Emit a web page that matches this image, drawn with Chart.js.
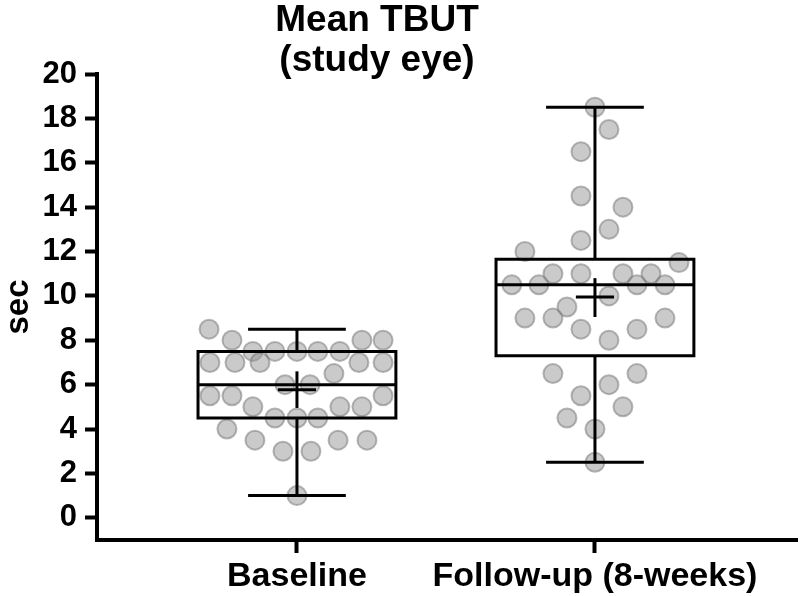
<!DOCTYPE html>
<html><head><meta charset="utf-8">
<script src="https://cdn.jsdelivr.net/npm/chart.js@4"></script>
<style>html,body{margin:0;padding:0;background:#fff}#wrap{width:800px;height:596px}</style>
</head><body><div id="wrap"><canvas id="c" width="800" height="596"></canvas></div>
<script>
// ---- data ----
const chartTitle = ['Mean TBUT', '(study eye)'];
const yAxisTitle = 'sec';
const categories = ['Baseline', 'Follow-up (8-weeks)'];
const yTickValues = [0, 2, 4, 6, 8, 10, 12, 14, 16, 18, 20];

const baselineValues = [8.5, 8.0, 7.5, 7.5, 7.5, 7.5, 7.5, 8.0, 8.0, 7.0, 7.0, 7.0, 6.5, 7.0, 7.0, 6.0, 6.0,
  5.5, 5.5, 5.0, 4.5, 4.5, 4.5, 5.0, 5.0, 5.5, 4.0, 3.5, 3.0, 3.0, 3.5, 3.5, 1.0];
const baselineJitter = [-0.295, -0.218, -0.148, -0.074, 0, 0.070, 0.144, 0.218, 0.289, -0.292, -0.208, -0.124, 0.124, 0.208, 0.289, -0.040, 0.044,
  -0.292, -0.218, -0.148, -0.074, 0, 0.070, 0.144, 0.218, 0.289, -0.235, -0.141, -0.047, 0.047, 0.138, 0.235, 0];

const followupValues = [18.5, 17.5, 16.5, 14.5, 14.0, 13.0, 12.5, 12.0, 11.5, 11.0, 11.0, 11.0, 11.0, 10.5, 10.5, 10.5, 10.5,
  10.0, 9.5, 9.0, 9.0, 9.0, 8.5, 8.5, 8.0, 6.5, 6.5, 6.0, 5.5, 5.0, 4.5, 4.0, 2.5];
const followupJitter = [0, 0.047, -0.047, -0.047, 0.094, 0.047, -0.047, -0.235, 0.282, -0.141, -0.047, 0.094, 0.188, -0.279, -0.188, 0.141, 0.235,
  0.047, -0.094, -0.235, -0.141, 0.235, -0.047, 0.141, 0.047, -0.141, 0.141, 0.047, -0.047, 0.094, -0.094, 0, 0];

const boxMin = [1.0, 2.5];
const boxQ1 = [4.5, 7.3];
const boxMedian = [6.0, 10.5];
const boxQ3 = [7.5, 11.65];
const boxMax = [8.5, 18.5];
const meanValue = [5.77, 9.95];
const meanLow = [4.95, 9.05];
const meanHigh = [6.6, 10.8];

// ---- style ----
const FONT = "'Liberation Sans', Arial, Helvetica, sans-serif";
const BOX_HALF = 0.332, CAP_HALF = 0.164, MEAN_HALF = 0.064;

const groups = [
  { values: baselineValues, jitter: baselineJitter },
  { values: followupValues, jitter: followupJitter }
];

const datasets = [];
groups.forEach((g, i) => {
  datasets.push({
    label: categories[i],
    data: g.values.map((v, k) => ({ x: i + 1 + g.jitter[k], y: v })),
    pointRadius: 9.5,
    pointBackgroundColor: 'rgba(150,150,150,0.5)',
    pointBorderColor: 'rgba(115,115,115,0.5)',
    pointBorderWidth: 2,
    showLine: false,
    order: 10
  });
});

function lineDs(pts, cap) {
  return {
    data: pts.map(p => ({ x: p[0], y: p[1] })),
    showLine: true, pointRadius: 0, borderColor: '#000', borderWidth: 3,
    fill: false, tension: 0, borderCapStyle: cap || 'butt', borderJoinStyle: 'miter', order: 1
  };
}

categories.forEach((c, i) => {
  const x = i + 1;
  datasets.push(lineDs([[x - BOX_HALF, boxQ1[i]], [x + BOX_HALF, boxQ1[i]], [x + BOX_HALF, boxQ3[i]], [x - BOX_HALF, boxQ3[i]], [x - BOX_HALF, boxQ1[i]]], 'square'));
  datasets.push(lineDs([[x - BOX_HALF, boxMedian[i]], [x + BOX_HALF, boxMedian[i]]]));
  datasets.push(lineDs([[x, boxQ3[i]], [x, boxMax[i]]]));
  datasets.push(lineDs([[x, boxQ1[i]], [x, boxMin[i]]]));
  datasets.push(lineDs([[x - CAP_HALF, boxMax[i]], [x + CAP_HALF, boxMax[i]]]));
  datasets.push(lineDs([[x - CAP_HALF, boxMin[i]], [x + CAP_HALF, boxMin[i]]]));
  datasets.push(lineDs([[x - MEAN_HALF, meanValue[i]], [x + MEAN_HALF, meanValue[i]]]));
  datasets.push(lineDs([[x, meanLow[i]], [x, meanHigh[i]]]));
});

const titlePlugin = {
  id: 'twoLineTitle',
  afterDraw(chart) {
    const ctx = chart.ctx;
    ctx.save();
    ctx.fillStyle = '#000';
    ctx.font = 'bold 37px ' + FONT;
    ctx.textAlign = 'center';
    ctx.textBaseline = 'alphabetic';
    chartTitle.forEach((t, k) => ctx.fillText(t, 377, 31 + k * 40));
    ctx.restore();
  }
};

new Chart(document.getElementById('c'), {
  type: 'scatter',
  data: { datasets },
  plugins: [titlePlugin],
  options: {
    responsive: false,
    animation: false,
    devicePixelRatio: 1,
    layout: { autoPadding: false, padding: { top: 74, right: 3, left: 0, bottom: 0 } },
    plugins: { legend: { display: false }, tooltip: { enabled: false }, title: { display: false } },
    scales: {
      x: {
        type: 'linear',
        min: 0.329, max: 2.678,
        afterBuildTicks: s => { s.ticks = categories.map((c, i) => ({ value: i + 1 })); },
        afterFit: s => { s.height = 56; },
        ticks: {
          callback: (v, idx) => categories[idx],
          autoSkip: false, maxRotation: 0, minRotation: 0,
          color: '#000', padding: 3,
          font: { family: FONT, size: 34, weight: 'bold', lineHeight: 1.2 }
        },
        grid: { drawOnChartArea: false, drawTicks: true, tickLength: 13, tickWidth: 4, tickColor: '#000' },
        border: { display: true, color: '#000', width: 4 }
      },
      y: {
        type: 'linear',
        min: -1, max: 20,
        afterBuildTicks: s => { s.ticks = yTickValues.map(v => ({ value: v })); },
        afterFit: s => { s.width = 97; },
        ticks: {
          color: '#000', padding: 8,
          font: { family: FONT, size: 31, weight: 'bold' }
        },
        grid: { drawOnChartArea: false, drawTicks: true, tickLength: 12, tickWidth: 4, tickColor: '#000' },
        border: { display: true, color: '#000', width: 4 },
        title: {
          display: true, text: yAxisTitle, color: '#000',
          font: { family: FONT, size: 33, weight: 'bold', lineHeight: 1.0 },
          padding: { top: 2, bottom: 0 }
        }
      }
    }
  }
});
</script>
</body></html>
